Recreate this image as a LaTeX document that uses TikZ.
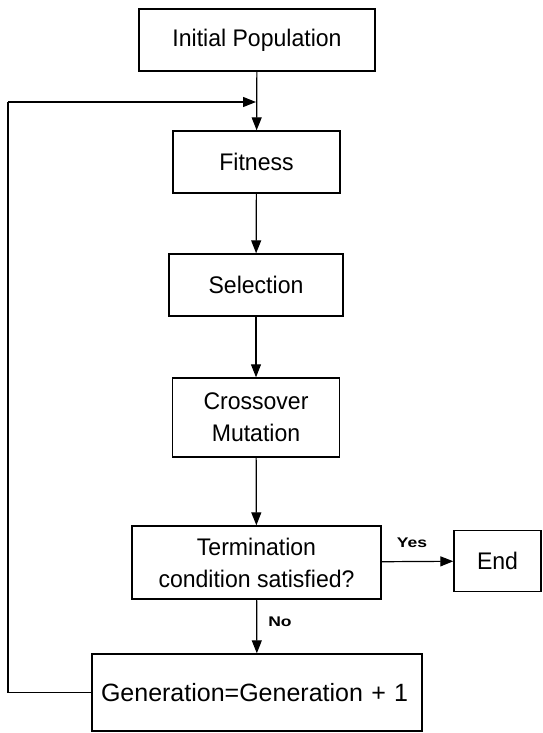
\documentclass[tikz,border=0pt]{standalone}
\usepackage{fontspec}
\setmainfont{Liberation Sans}
\usetikzlibrary{arrows.meta}
\begin{document}
\begin{tikzpicture}[x=1pt,y=-1pt,
  box/.style={draw, line width=1.4pt, inner sep=0pt, font=\fontsize{24}{32}\selectfont\addfontfeature{FakeStretch=0.96}, align=center},
  conn/.style={line width=1.2pt, -{Triangle[length=13pt,width=10pt]}},
  plain/.style={line width=1.2pt},
  lbl/.style={font=\fontsize{14}{16}\selectfont\bfseries\addfontfeature{FakeStretch=1.25}}]
\useasboundingbox (0,0) rectangle (542,733);
\node[box, minimum width=236pt, minimum height=62pt] (init) at (257,40) {Initial Population};
\node[box, minimum width=167pt, minimum height=62pt] (fit) at (256.5,162) {Fitness};
\node[box, minimum width=174pt, minimum height=62pt] (sel) at (256,285) {Selection};
\node[box, minimum width=167pt, minimum height=79pt] (cross) at (256,417.5) {Crossover\\Mutation};
\node[box, minimum width=249pt, minimum height=73pt] (term) at (256.5,562.5) {Termination\\condition satisfied?};
\node[box, minimum width=87pt, minimum height=61pt] (end) at (497.5,561) {End};
\node[box, font=\fontsize{25}{32}\selectfont, minimum height=77pt, text width=312pt, inner xsep=9pt, align=left] (gen) at (257,692.5) {Generation=Generation + 1};
\coordinate (ll) at (8,102);
\coordinate (jn) at (256,102);
\draw[conn] (init) -- (fit);
\draw[conn] (fit) -- (sel);
\draw[conn] (sel) -- (cross);
\draw[conn] (cross) -- (term);
\draw[conn] (term) -- (gen);
\draw[conn] (term) -- (end);
\draw[plain] (gen.west) -| (ll);
\draw[conn] (ll) -- (jn);
\node[lbl] (yes) at (412,543) {Yes};
\node[lbl] (no) at (280,622) {No};
\end{tikzpicture}
\end{document}
